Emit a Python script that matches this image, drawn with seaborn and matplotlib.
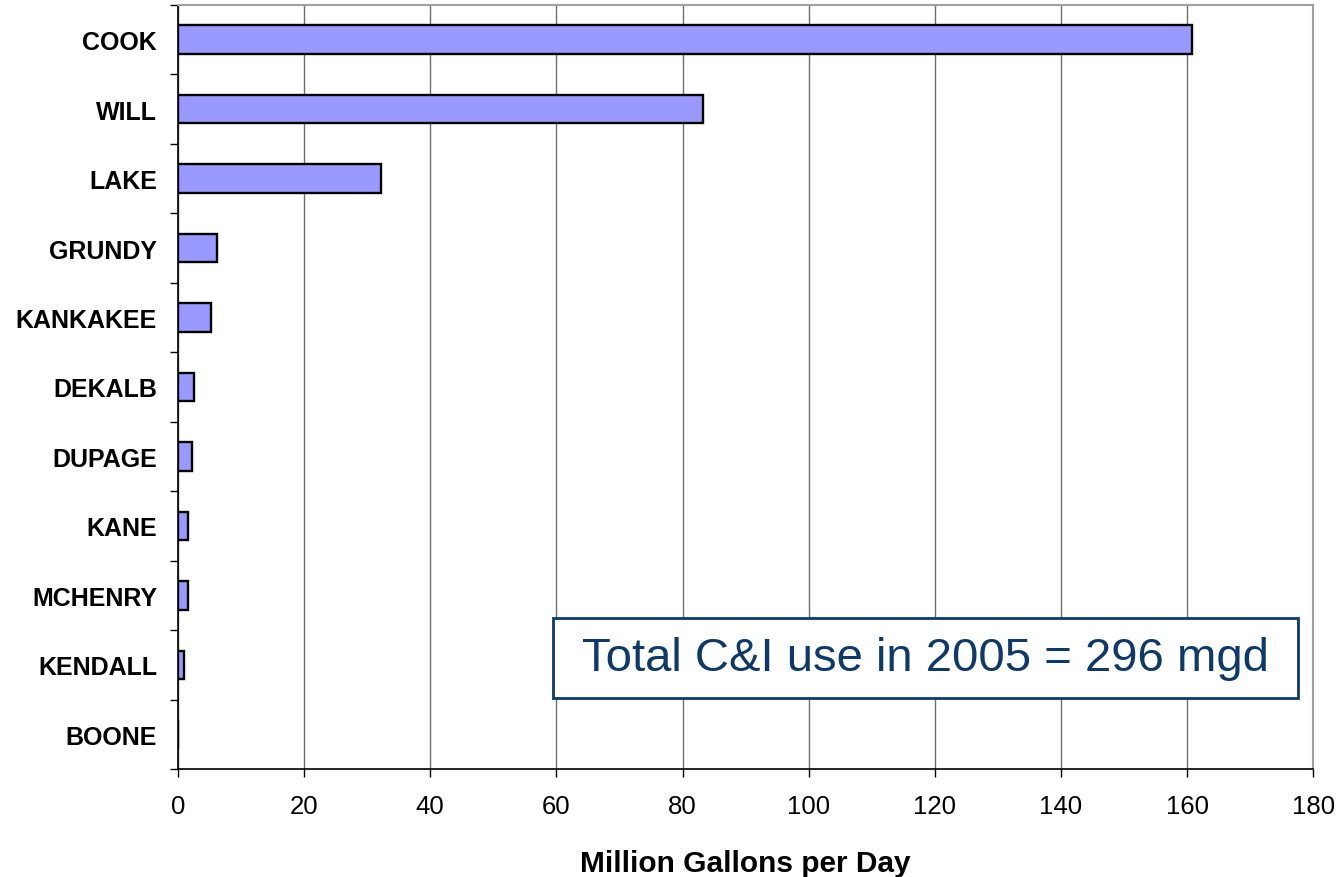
import matplotlib
matplotlib.use("Agg")
import matplotlib.pyplot as plt
from matplotlib.patches import Rectangle
from matplotlib.ticker import FixedLocator
import seaborn as sns
import pandas as pd

# Commercial & industrial water use by county, 2005 (million gallons per day)
counties = ["COOK", "WILL", "LAKE", "GRUNDY", "KANKAKEE", "DEKALB",
            "DUPAGE", "KANE", "MCHENRY", "KENDALL", "BOONE"]
mgd = [160.8, 83.3, 32.2, 6.2, 5.2, 2.6, 2.3, 1.6, 1.6, 0.95, 0.0]
x_ticks = [0, 20, 40, 60, 80, 100, 120, 140, 160, 180]
total_label = "Total C&I use in 2005 = 296 mgd"

sns.set_theme(style="white")
plt.rcParams["font.family"] = ["Liberation Sans", "DejaVu Sans"]
plt.rcParams["text.color"] = "black"
plt.rcParams["axes.labelcolor"] = "black"
plt.rcParams["xtick.color"] = "black"
plt.rcParams["ytick.color"] = "black"

df = pd.DataFrame({"county": counties, "mgd": mgd})

fig = plt.figure(figsize=(13.4, 8.78), dpi=100)
ax = fig.add_axes([0.1328, 0.123, 0.8472, 0.8702])

sns.barplot(data=df, x="mgd", y="county", orient="h", color="#9999FF",
            saturation=1, edgecolor="black", linewidth=1.7, width=0.41, ax=ax,
            zorder=3)

ax.set_xlim(0, 180)
ax.set_ylim(len(counties) - 0.5, -0.5)
ax.set_xticks(x_ticks)
ax.set_xticklabels([str(t) for t in x_ticks])

# vertical gridlines
ax.grid(axis="x", color="#6e6e6e", linewidth=1.0, zorder=0)
ax.grid(axis="y", visible=False)
ax.set_axisbelow(True)

# category separators on the y axis
ax.yaxis.set_minor_locator(FixedLocator([i - 0.5 for i in range(len(counties) + 1)]))
ax.tick_params(axis="y", which="major", length=0, pad=15, labelsize=18,
               labelcolor="black")
ax.tick_params(axis="y", which="minor", length=6, width=1.0, color="black",
               direction="out", left=True)
ax.tick_params(axis="x", which="major", length=6, width=1.0, color="black",
               direction="out", bottom=True, pad=12, labelsize=18.5,
               labelcolor="black")
for lbl in ax.get_yticklabels():
    lbl.set_fontweight("bold")

ax.set_ylabel("")
ax.set_xlabel("Million Gallons per Day", fontsize=21.5, fontweight="bold",
              labelpad=22, color="black")

for side in ("top", "right"):
    ax.spines[side].set_color("#a0a0a0")
    ax.spines[side].set_linewidth(1.5)
for side in ("left", "bottom"):
    ax.spines[side].set_color("black")
    ax.spines[side].set_linewidth(1.2)

# summary box
box = Rectangle((0.3304, 0.0929), 0.6564, 0.1047, transform=ax.transAxes,
                facecolor="white", edgecolor="#0d3a6b", linewidth=2, zorder=5)
ax.add_patch(box)
ax.text(0.6586, 0.145, total_label, transform=ax.transAxes, ha="center",
        va="center", fontsize=34, color="#0d3a6b", zorder=6)

fig.savefig("out.png", dpi=100, facecolor="white")
